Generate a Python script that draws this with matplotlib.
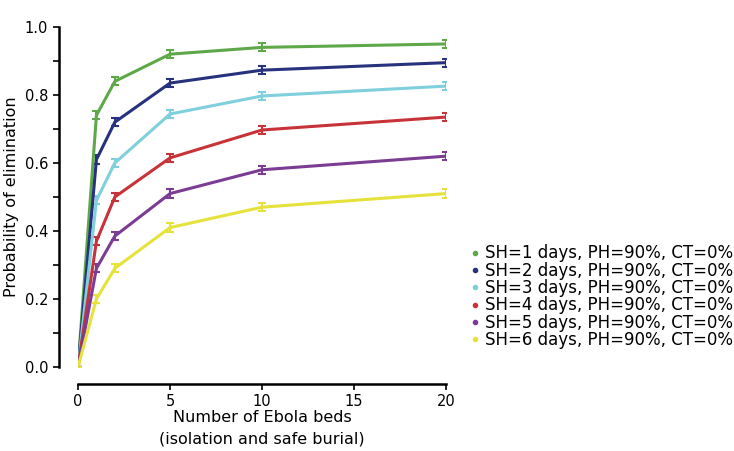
import matplotlib.pyplot as plt

# Number of Ebola beds
beds = [0, 1, 2, 5, 10, 20]

# Probability of elimination per symptomatic-to-hospital delay (SH)
sh1 = [0.0, 0.74, 0.84, 0.92, 0.94, 0.95]
sh2 = [0.0, 0.61, 0.72, 0.835, 0.873, 0.895]
sh3 = [0.0, 0.49, 0.60, 0.744, 0.797, 0.826]
sh4 = [0.0, 0.37, 0.50, 0.615, 0.697, 0.735]
sh5 = [0.0, 0.29, 0.385, 0.51, 0.58, 0.62]
sh6 = [0.0, 0.20, 0.29, 0.41, 0.47, 0.51]
err = [0.0, 0.012, 0.012, 0.012, 0.012, 0.012]

labels = ['SH=1 days, PH=90%, CT=0%', 'SH=2 days, PH=90%, CT=0%',
          'SH=3 days, PH=90%, CT=0%', 'SH=4 days, PH=90%, CT=0%',
          'SH=5 days, PH=90%, CT=0%', 'SH=6 days, PH=90%, CT=0%']
colors = ['#5fa84a', '#27327e', '#7fcfdc', '#c8333a', '#7b3c93', '#e6e23c']
series = [sh1, sh2, sh3, sh4, sh5, sh6]

fig = plt.figure(figsize=(7.34, 4.51), dpi=100)
ax = fig.add_axes([0.1063, 0.1863, 0.5014, 0.7539])

handles = []
for vals, col, lab in zip(series, colors, labels):
    ax.errorbar(beds, vals, yerr=err, color=col, lw=2.2, capsize=3, capthick=1.5,
                elinewidth=1.5)
    h, = ax.plot([], [], 'o', color=col, ms=3, label=lab)
    handles.append(h)

ax.set_xlim(0, 20)
ax.set_ylim(0, 1.0)
ax.set_xticks([0, 5, 10, 15, 20])
ax.set_yticks([0.0, 0.2, 0.4, 0.6, 0.8, 1.0])
ax.set_yticks([0.1, 0.3, 0.5, 0.7, 0.9], minor=True)
ax.set_yticklabels(['0.0', '0.2', '0.4', '0.6', '0.8', '1.0'], rotation=90, va='center')
ax.tick_params(axis='y', which='minor', length=4, width=1.2)
ax.tick_params(axis='both', which='major', length=4, width=1.2, labelsize=10.5)

for s in ['top', 'right']:
    ax.spines[s].set_visible(False)
ax.spines['left'].set_position(('outward', 14))
ax.spines['bottom'].set_position(('outward', 12))
ax.spines['left'].set_linewidth(1.8)
ax.spines['bottom'].set_linewidth(1.8)

ax.set_xlabel('Number of Ebola beds\n(isolation and safe burial)', fontsize=11.5, labelpad=1,
              linespacing=1.5)
ax.set_ylabel('Probability of elimination', fontsize=11.5, labelpad=4)

fig.legend(handles=handles, loc='upper left', bbox_to_anchor=(0.642, 0.458),
           frameon=False, fontsize=12, handlelength=0.5, handletextpad=0.3,
           labelspacing=-0.04, borderaxespad=0, borderpad=0)

fig.savefig('out.png', dpi=100)
